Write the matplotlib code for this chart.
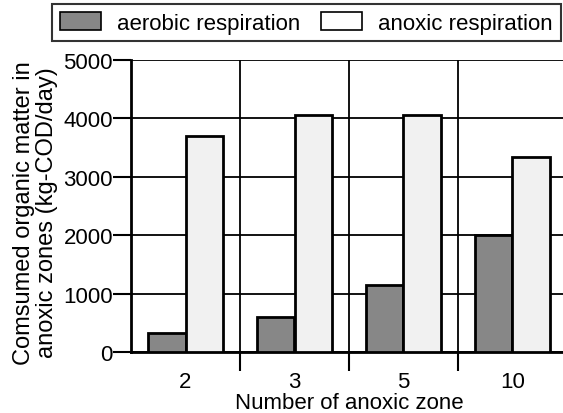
import matplotlib
matplotlib.use("Agg")
import matplotlib.pyplot as plt
import numpy as np
from matplotlib.patches import Patch

plt.rcParams['font.family'] = ['Liberation Sans', 'DejaVu Sans']

categories = ['2', '3', '5', '10']
aerobic = [320, 600, 1150, 2000]
anoxic = [3700, 4050, 4050, 3340]
yticks = [0, 1000, 2000, 3000, 4000, 5000]

FS = 16
fig = plt.figure(figsize=(5.63, 4.14), dpi=100)
ax = fig.add_axes([131/563, 1-353/414, (567-131)/563, (353-61)/414])

x = np.arange(len(categories))
w = 0.34
aer_col = '#878787'
anx_col = '#f1f1f1'
ax.bar(x - w/2, aerobic, w, color=aer_col, edgecolor='black', linewidth=2.0, zorder=3)
ax.bar(x + w/2, anoxic, w, color=anx_col, edgecolor='black', linewidth=2.0, zorder=3)

ax.set_xlim(-0.5, len(categories) - 0.5)
ax.set_ylim(0, 5000)
ax.set_yticks(yticks)
ax.set_yticklabels([str(v) for v in yticks], fontsize=FS)
ax.set_xticks(x)
ax.set_xticklabels(categories, fontsize=FS)
ax.set_xticks(np.arange(len(categories)) + 0.5, minor=True)
ax.tick_params(axis='x', which='major', length=0, pad=14)
ax.tick_params(axis='x', which='minor', length=14, width=1.5, direction='out')
ax.tick_params(axis='y', which='major', length=13, width=1.5, pad=0, direction='out')

ax.grid(axis='y', which='major', color='black', linewidth=1.3, zorder=1)
ax.grid(axis='x', which='minor', color='black', linewidth=1.3, zorder=1)
ax.set_axisbelow(True)

for s in ['top', 'right']:
    ax.spines[s].set_visible(False)
ax.spines['left'].set_linewidth(2.0)
ax.spines['bottom'].set_linewidth(2.0)

ax.set_xlabel('Number of anoxic zone', fontsize=FS, labelpad=0)
ax.set_ylabel('Comsumed organic matter in\nanoxic zones (kg-COD/day)', fontsize=17,
              linespacing=1.05)
ax.yaxis.set_label_coords(-0.168, 0.48)

handles = [Patch(facecolor=aer_col, edgecolor='black', linewidth=1.2),
           Patch(facecolor='white', edgecolor='black', linewidth=1.2)]
leg = fig.legend(handles, ['aerobic respiration', 'anoxic respiration'],
                 loc='upper left', bbox_to_anchor=(52/563, 1-5/414), ncol=2,
                 fontsize=FS, frameon=True, fancybox=False, edgecolor='black',
                 handlelength=1.85, handleheight=0.9, handletextpad=0.72, columnspacing=0.95,
                 borderpad=0.35, borderaxespad=0)
leg.get_frame().set_linewidth(1.5)

fig.savefig('out.png', dpi=100)
